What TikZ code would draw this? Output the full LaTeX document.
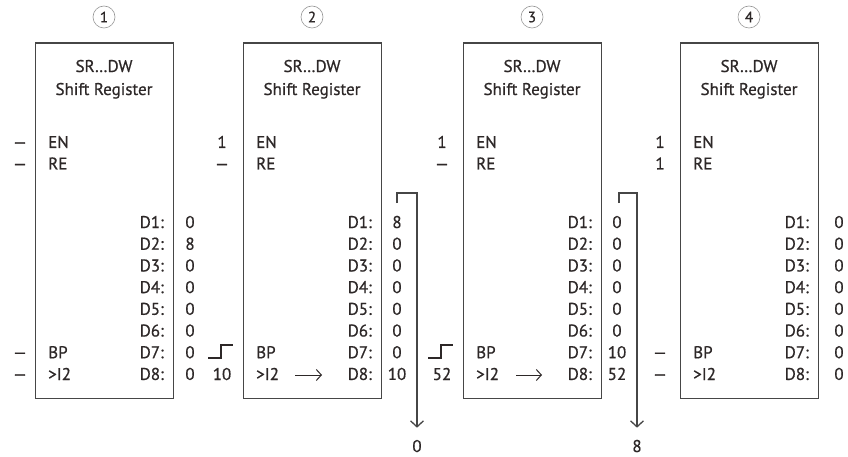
\documentclass[tikz,border=0pt]{standalone}
\usepackage{fontspec}
\setmainfont{PT Sans}[FakeBold=0.7]
\usetikzlibrary{arrows.meta, positioning}
\definecolor{ink}{RGB}{45,40,40}
\definecolor{frame}{RGB}{70,70,70}
\definecolor{ring}{RGB}{150,150,150}

\begin{document}
\begin{tikzpicture}[
  x=1pt, y=-1pt,
  every node/.style={font=\fontsize{17}{20}\selectfont, text=ink},
  regbox/.style={rectangle, draw=frame, line width=1.3pt, minimum width=138pt,
    minimum height=355pt, inner sep=0pt},
  circ/.style={circle, draw=ring, line width=0.6pt, minimum size=22pt, inner sep=0pt,
    font=\fontsize{15}{15}\selectfont},
  lbl/.style={anchor=base west, inner sep=0pt},
  dlbl/.style={anchor=base east, inner sep=0pt},
  val/.style={anchor=base, inner sep=0pt},
  sig/.style={anchor=base, inner sep=0pt},
  outval/.style={anchor=base, inner sep=0pt, text depth=0pt},
  shiftarr/.style={-{Straight Barb[length=6pt, width=13pt]}, line width=1.3pt, draw=frame},
  flowarr/.style={-{Straight Barb[length=5pt, width=11pt]}, line width=1pt, draw=ink},
  stepline/.style={line width=1.2pt, draw=ink}
]
\useasboundingbox (0,0) rectangle (848,457);

% Four states of the register
\foreach \b/\xl/\vx/\vals in {1/35/190/{0,8,0,0,0,0,0,0},
    2/243/397/{8,0,0,0,0,0,0,10},
    3/463/617/{0,0,0,0,0,0,10,52},
    4/680/839/{0,0,0,0,0,0,0,0}} {
  \node[regbox, anchor=north west] (reg\b) at (\xl,42.5) {};
  \node[circ] (num\b) at (\xl+69,17) {\b};
  \node[val] (name\b) at (\xl+69,72) {SR…DW};
  \node[val] (kind\b) at (\xl+69,95) {Shift Register};
  \node[lbl] (en\b) at (\xl+13,148) {EN};
  \node[lbl] (re\b) at (\xl+13,169.5) {RE};
  \node[lbl] (bp\b) at (\xl+13,358.2) {BP};
  \node[lbl] (in\b) at (\xl+13,380) {>I2};
  \foreach \v [count=\i] in \vals {
    \node[dlbl] (d\b-\i) at (\xl+129,206.3+21.7*\i) {D\i:};
    \node[val] (v\b-\i) at (\vx,206.3+21.7*\i) {\v};
  }
}

% Signals on the inputs
\node[sig] (en1s) at (20,148) {—};
\node[sig] (re1s) at (20,169.5) {—};
\node[sig] (bp1s) at (20,358.2) {—};
\node[sig] (in1s) at (20,380) {—};

\node[sig] (en2s) at (222,148) {1};
\node[sig] (re2s) at (222,169.5) {—};
\draw[stepline] (208,358) -- (221,358) -- (221,345) -- (233,345);
\node[sig] (in2s) at (222,380) {10};

\node[sig] (en3s) at (442,148) {1};
\node[sig] (re3s) at (442,169.5) {—};
\draw[stepline] (428,358) -- (441,358) -- (441,345) -- (453,345);
\node[sig] (in3s) at (442,380) {52};

\node[sig] (en4s) at (660,148) {1};
\node[sig] (re4s) at (660,169.5) {1};
\node[sig] (bp4s) at (660,358.2) {—};
\node[sig] (in4s) at (660,380) {—};

% Data shifted in
\coordinate (from2) at (295,375);
\coordinate (to2) at (322,375);
\coordinate (from3) at (516,375);
\coordinate (to3) at (542,375);
\draw[flowarr] (from2) -- (to2);
\draw[flowarr] (from3) -- (to3);

% Data shifted out
\node[outval] (out2) at (417,452) {0};
\node[outval] (out3) at (637,452) {8};
\coordinate (top2) at (397,203);
\coordinate (top3) at (619,203);
\draw[shiftarr, shorten >=12pt] (top2) -- ++(0,-10) -| (out2.north);
\draw[shiftarr, shorten >=12pt] (top3) -- ++(0,-10) -| (out3.north);
\end{tikzpicture}
\end{document}
